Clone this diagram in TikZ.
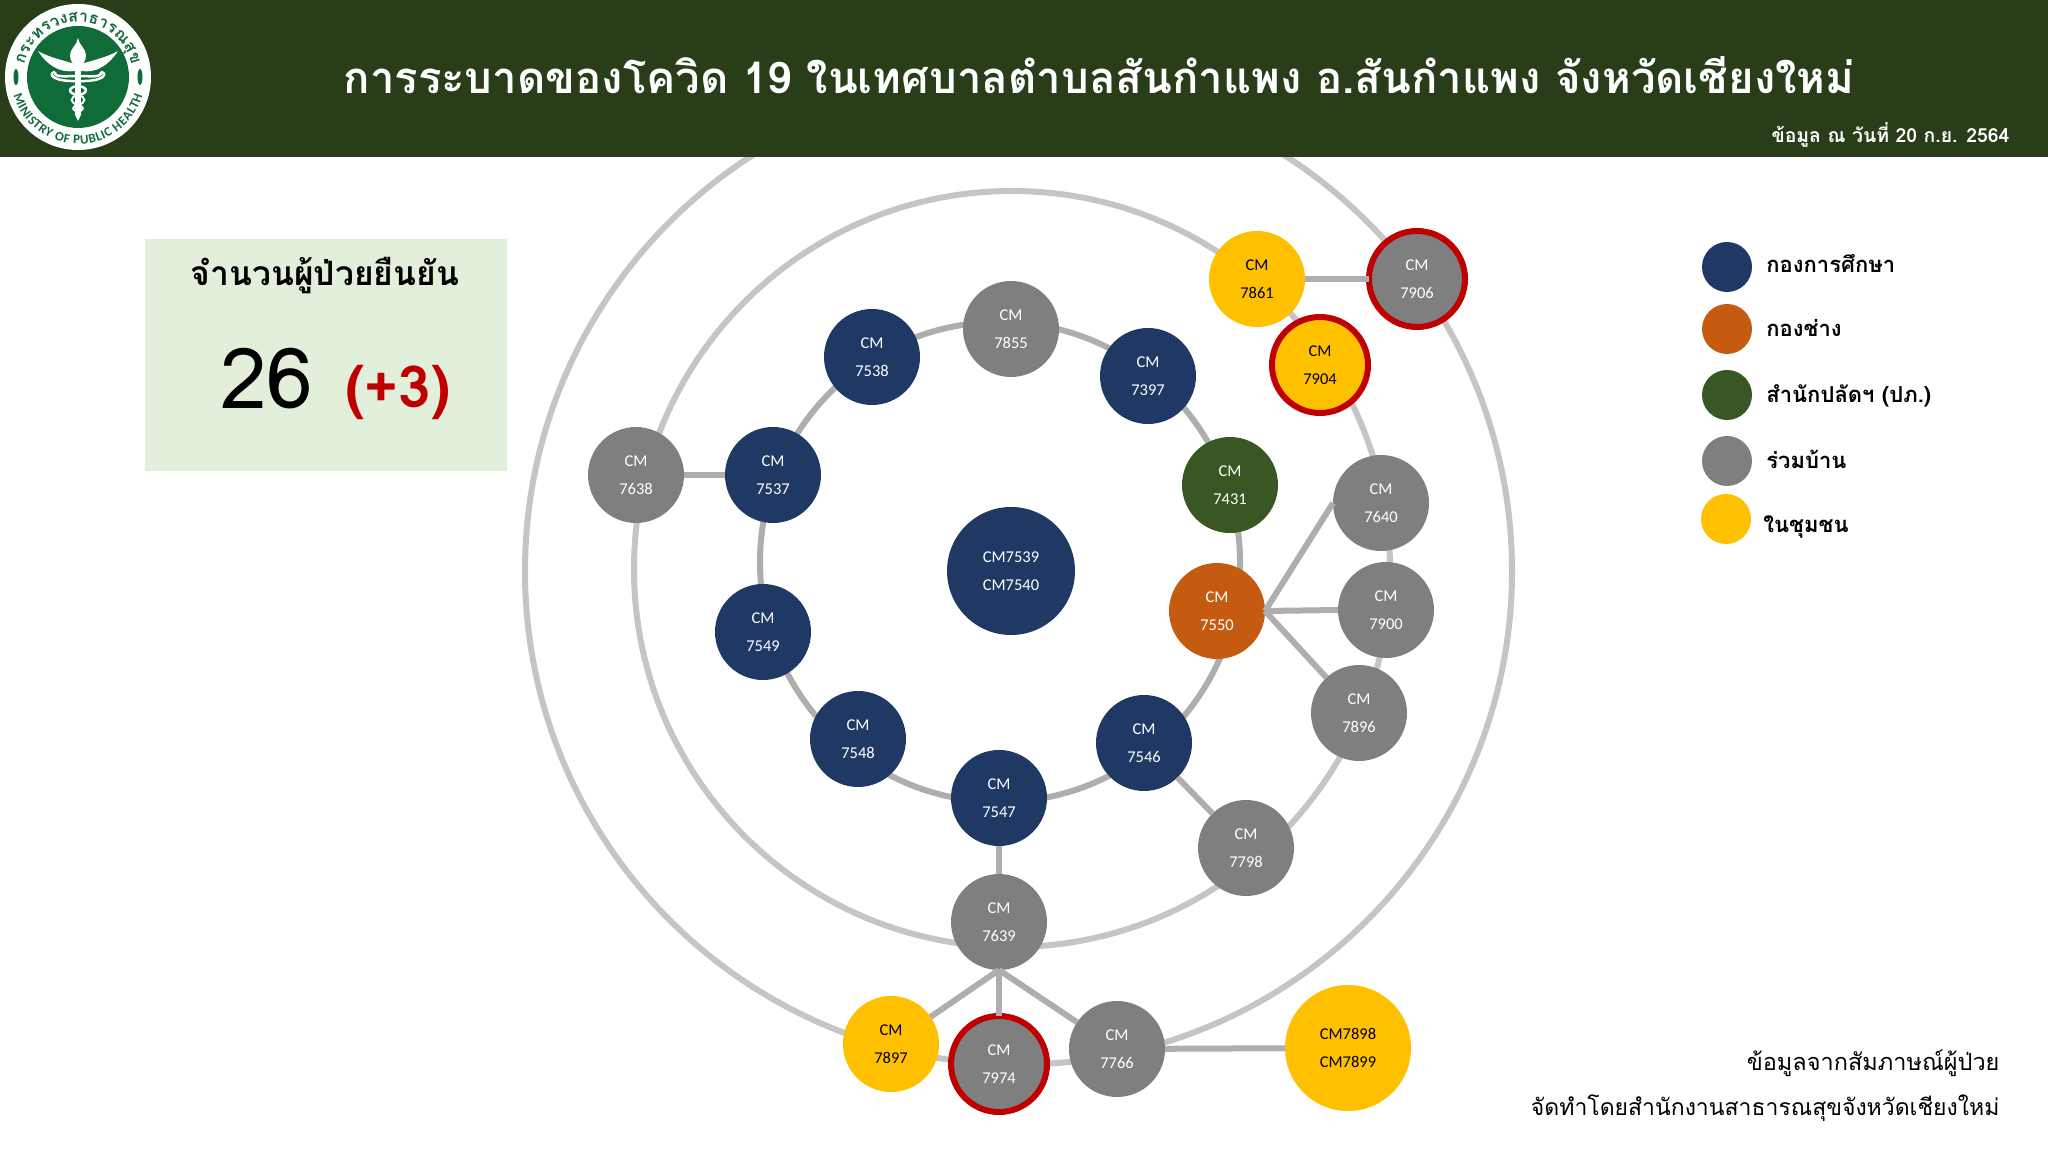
\documentclass[tikz,border=0pt]{standalone}
\usepackage{fontspec}
\usepackage{tikz}
\usetikzlibrary{positioning,decorations.text}
\newfontfamily\thaifont[Script=Thai]{Loma}
\newfontfamily\labelfont{Carlito}
\definecolor{headgreen}{HTML}{283D18}
\definecolor{logogreen}{HTML}{0F6B38}
\definecolor{boxgreen}{HTML}{E2EFDA}
\definecolor{navy}{HTML}{1F3864}
\definecolor{rust}{HTML}{C55A11}
\definecolor{moss}{HTML}{385723}
\definecolor{stone}{HTML}{7F7F7F}
\definecolor{amber}{HTML}{FFC000}
\definecolor{alert}{HTML}{C00000}
\definecolor{ringgray}{HTML}{C6C4C5}
\definecolor{linkgray}{HTML}{AFADAE}

\begin{document}
\begin{tikzpicture}[
x=1pt, y=1pt,
ring/.style={circle, draw=#1, line width=6pt, minimum size=0pt, inner sep=0pt, outer sep=0pt},
link/.style={linkgray, line width=6pt},
person/.style={
	circle, minimum size=96pt, inner sep=0pt, outer sep=0pt,
	align=center, text=white,
	font=\labelfont\fontsize{16.5}{28}\selectfont
},
navynode/.style={person, fill=navy},
stonenode/.style={person, fill=stone},
ambernode/.style={person, fill=amber, text=black},
newcase/.style={draw=alert, line width=6pt},
key/.style={circle, minimum size=50pt, inner sep=0pt, fill=#1},
keytext/.style={right=14pt of #1, text height=18pt, text depth=7pt, inner sep=0pt, yshift=-2pt, font=\thaifont\bfseries\fontsize{22}{26}\selectfont}
]
\useasboundingbox (0,0) rectangle (2048,1152);

\node[ring=linkgray, minimum size=480pt] (inner) at (1000,590) {};
\node[ring=ringgray, minimum size=756pt] (middle) at (1012,583) {};
\node[ring=ringgray, minimum size=987pt] (outer) at (1018.5,581) {};

\node[fill=headgreen, minimum width=2048pt, minimum height=157pt, inner sep=0pt] (band) at (1024,1073.5) {};
\node[text=white, font=\thaifont\bfseries\fontsize{43.7}{50}\selectfont] (title) at (1099,1077)
	{การระบาดของโควิด 19 ในเทศบาลตำบลสันกำแพง อ.สันกำแพง จังหวัดเชียงใหม่};
\node[anchor=east, text=white, font=\thaifont\bfseries\fontsize{19.4}{24}\selectfont] (date) at (2013,1017)
	{ข้อมูล ณ วันที่ 20 ก.ย. 2564};

\begin{scope}[shift={(78,1075)}]
\fill[white] (0,0) circle (73);
\fill[logogreen] (0,0) circle (51);
\path[decorate, decoration={text along path, text align={fit to path},
	text={|\thaifont\bfseries\fontsize{16}{16}\selectfont\color{logogreen}|กระทรวงสาธารณ{สุ}ข}}]
	(167:55) arc[start angle=167, end angle=13, radius=55];
\path[decorate, decoration={text along path, text align={fit to path},
	text={|\labelfont\bfseries\fontsize{13}{13}\selectfont\color{logogreen}|MINISTRY OF PUBLIC HEALTH}}]
	(196:67) arc[start angle=196, end angle=344, radius=67];
\foreach \s in {1,-1}
{
	\begin{scope}[xscale=\s]
	\fill[logogreen] (62,0) ellipse (2.5 and 8);
	\fill[white] (-40,26) .. controls (-30,20) and (-16,17) .. (-3,13) -- (-3,6) .. controls (-10,5) and (-18,6) .. (-24,10) .. controls (-28,12) and (-35,18) .. (-40,26);
	\draw[white, line width=2.5pt] (0,1) .. controls (-12,1) and (-24,-1) .. (-23,5);
	\draw[white, line width=2.5pt] (0,-4) .. controls (-27,-5) and (-30,4) .. (-23,5);
	\draw[white, line width=2.5pt] (0,-9) .. controls (-11,-10) and (-10,-17) .. (0,-18);
	\draw[white, line width=2pt] (0,-18) .. controls (9,-20) and (8,-26) .. (0,-28);
	\draw[white, line width=2pt] (0,-28) .. controls (-7,-30) and (-6,-33) .. (0,-35);
	\end{scope}
}
\fill[white] (-3.3,12) rectangle (3.3,-37);
\fill[white] (-3.5,-37) -- (0,-44) -- (3.5,-37) -- cycle;
\fill[white] (0,39) .. controls (1,32) and (8,28) .. (8,22) .. controls (8,16) and (5,13) .. (3,12) -- (-3,12) .. controls (-5,13) and (-8,16) .. (-8,22) .. controls (-8,28) and (-1,32) .. (0,39);
\end{scope}

\node[fill=boxgreen, minimum width=362pt, minimum height=232pt, inner sep=0pt] (box) at (326,797) {};
\node[font=\thaifont\bfseries\fontsize{33.6}{40}\selectfont] (boxtitle) at (325,876) {จำนวนผู้ป่วยยืนยัน};
\node[font=\thaifont\fontsize{84}{90}\selectfont] (count) at (267,773) {26};
\node[text=alert, font=\thaifont\bfseries\fontsize{58}{64}\selectfont] (extra) at (398,760) {(+3)};

\node[stonenode] (7855) at (1011,823) {CM\\7855};
\foreach \i/\x/\y in {7538/872/795, 7397/1148/776, 7537/773/677, 7549/763/520, 7548/858/413, 7547/999/354, 7546/1144/409}
	\node[navynode] (\i) at (\x,\y) {CM\\\i};
\foreach \i/\x/\y in {7640/1381/649, 7900/1386/542, 7896/1359/439, 7638/636/677, 7798/1246/304, 7639/999/230, 7766/1117/103}
	\node[stonenode] (\i) at (\x,\y) {CM\\\i};
\foreach \i/\x/\y in {7861/1257/873, 7897/891/108}
	\node[ambernode] (\i) at (\x,\y) {CM\\\i};
\node[person, fill=moss] (7431) at (1230,667) {CM\\7431};
\node[person, fill=rust] (7550) at (1217,541) {CM\\7550};
\node[stonenode, newcase] (7906) at (1417,873) {CM\\7906};
\node[stonenode, newcase] (7974) at (999,88) {CM\\7974};
\node[ambernode, newcase] (7904) at (1320,787) {CM\\7904};
\node[person, fill=navy, minimum size=128pt] (7539) at (1011,581) {CM7539\\CM7540};
\node[ambernode, minimum size=126pt] (7898) at (1348,104) {CM7898\\CM7899};

\draw[link] (7638) -- (7537);
\draw[link] (7861) -- (7906);
\draw[link] (7546) -- (7798);
\draw[link] (7547) -- (7639);
\draw[link] (7766) -- (7898);
\draw[link] (7550.east) -- (7640.west);
\draw[link] (7550.east) -- (7900.west);
\draw[link] (7550.east) -- (7896);
\foreach \i in {7897,7974,7766}
{
	\draw[link] (7639.south) -- (\i);
}

\node[key=navy] (key1) at (1727,885) {};
\node[keytext=key1, yshift=2pt] (label1) {กองการศึกษา};
\node[key=rust] (key2) at (1727,823) {};
\node[keytext=key2] (label2) {กองช่าง};
\node[key=moss] (key3) at (1727,757) {};
\node[keytext=key3] (label3) {สำนักปลัดฯ (ปภ.)};
\node[key=stone] (key4) at (1727,691) {};
\node[keytext=key4] (label4) {ร่วมบ้าน};
\node[key=amber] (key5) at (1726,633) {};
\node[keytext=key5, yshift=-6pt, xshift=-2pt] (label5) {ในชุมชน};

\node[anchor=east, font=\thaifont\fontsize{23.5}{28}\selectfont] (source) at (2003,1152-1063) {ข้อมูลจากสัมภาษณ์ผู้ป่วย};
\node[anchor=east, font=\thaifont\fontsize{23}{28}\selectfont] (office) at (2003,1152-1108) {จัดทำโดยสำนักงานสาธารณสุขจังหวัดเชียงใหม่};
\end{tikzpicture}
\end{document}
